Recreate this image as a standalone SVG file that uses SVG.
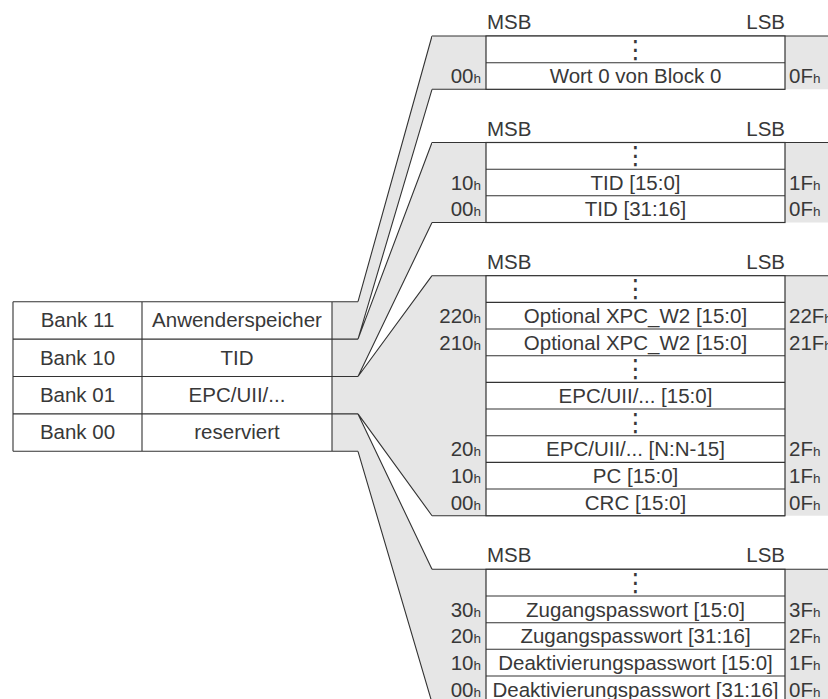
<svg xmlns="http://www.w3.org/2000/svg" width="828" height="699" viewBox="0 0 828 699">
<style>
.t{font-family:"Liberation Sans",Arial,Helvetica,sans-serif;font-size:20.5px;fill:#383838}
.c{text-anchor:middle}
.e{text-anchor:end}
.s{font-size:13.5px}
.d{font-family:"DejaVu Sans",sans-serif;font-size:25px;fill:#383838;text-anchor:middle}
.g{fill:#e6e6e6;stroke:none}
.w{fill:#fff;stroke:#333;stroke-width:1.2}
.l{fill:none;stroke:#333;stroke-width:1.1}
</style>
<rect width="828" height="699" fill="#fff"/>
<g id="connectors">
  <path class="g" d="M332,301.7 H358 L432,36 V89.3 L358,339.1 H332 Z"/>
  <path class="g" d="M332,339.1 H358 L432,142.5 V222.5 L358,376.5 H332 Z"/>
  <path class="g" d="M332,376.5 H358 L432,275.7 V515.7 L358,413.9 H332 Z"/>
  <path class="g" d="M332,413.9 H358 L432,569.3 V702.7 L358,451.3 H332 Z"/>
  <path class="l" d="M358,301.7 L432,36 M358,339.1 L432,89.3 M358,339.1 L432,142.5 M358,376.5 L432,222.5 M358,376.5 L432,275.7 M358,413.9 L432,515.7 M358,413.9 L432,569.3 M358,451.3 L432,702.7"/>
</g>
<g id="banks">
  <path class="l" d="M13,301.7 H358 M13,339.1 H358 M13,376.5 H358 M13,413.9 H358 M13,451.3 H358 M13,301.7 V451.3 M142,301.7 V451.3 M332,301.7 V451.3"/>
  <g id="bank11"><text class="t c" x="77.5" y="327.2">Bank 11</text><text class="t c" x="237" y="327.2">Anwenderspeicher</text></g>
  <g id="bank10"><text class="t c" x="77.5" y="364.6">Bank 10</text><text class="t c" x="237" y="364.6">TID</text></g>
  <g id="bank01"><text class="t c" x="77.5" y="402">Bank 01</text><text class="t c" x="237" y="402">EPC/UII/...</text></g>
  <g id="bank00"><text class="t c" x="77.5" y="439.4">Bank 00</text><text class="t c" x="237" y="439.4">reserviert</text></g>
</g>
<g id="block-user">
  <rect class="g" x="432" y="36" width="396" height="53.3"/>
  <path class="l" d="M432,36 H828 M432,89.3 H785"/>
  <rect class="w" x="486" y="36" width="299" height="53.3"/>
  <path class="l" d="M486,62.7 H785"/>
  <text class="t" x="487" y="29">MSB</text><text class="t e" x="785" y="29">LSB</text>
  <text class="d" x="635.5" y="57.5">⋮</text>
  <text class="t c" x="635.5" y="83.2">Wort 0 von Block 0</text>
  <text class="t e" x="481" y="83.2">00<tspan class="s">h</tspan></text>
  <text class="t" x="789" y="83.2">0F<tspan class="s">h</tspan></text>
</g>
<g id="block-tid">
  <rect class="g" x="432" y="142.5" width="396" height="80"/>
  <path class="l" d="M432,142.5 H828 M432,222.5 H785"/>
  <rect class="w" x="486" y="142.5" width="299" height="80"/>
  <path class="l" d="M486,169.2 H785 M486,195.8 H785"/>
  <text class="t" x="487" y="135.5">MSB</text><text class="t e" x="785" y="135.5">LSB</text>
  <text class="d" x="635.5" y="164">⋮</text>
  <text class="t c" x="635.5" y="189.7">TID [15:0]</text>
  <text class="t e" x="481" y="189.7">10<tspan class="s">h</tspan></text>
  <text class="t" x="789" y="189.7">1F<tspan class="s">h</tspan></text>
  <text class="t c" x="635.5" y="216.3">TID [31:16]</text>
  <text class="t e" x="481" y="216.3">00<tspan class="s">h</tspan></text>
  <text class="t" x="789" y="216.3">0F<tspan class="s">h</tspan></text>
</g>
<g id="block-epc">
  <rect class="g" x="432" y="275.7" width="396" height="240"/>
  <path class="l" d="M432,275.7 H828 M432,515.7 H785"/>
  <rect class="w" x="486" y="275.7" width="299" height="240"/>
  <path class="l" d="M486,302.4 H785 M486,329 H785 M486,355.7 H785 M486,382.4 H785 M486,409 H785 M486,435.7 H785 M486,462.4 H785 M486,489 H785"/>
  <text class="t" x="487" y="268.7">MSB</text><text class="t e" x="785" y="268.7">LSB</text>
  <text class="d" x="635.5" y="297.2">⋮</text>
  <text class="t c" x="635.5" y="322.9">Optional XPC_W2 [15:0]</text>
  <text class="t e" x="481" y="322.9">220<tspan class="s">h</tspan></text>
  <text class="t" x="789" y="322.9">22F<tspan class="s">h</tspan></text>
  <text class="t c" x="635.5" y="349.5">Optional XPC_W2 [15:0]</text>
  <text class="t e" x="481" y="349.5">210<tspan class="s">h</tspan></text>
  <text class="t" x="789" y="349.5">21F<tspan class="s">h</tspan></text>
  <text class="d" x="635.5" y="377.2">⋮</text>
  <text class="t c" x="635.5" y="402.9">EPC/UII/... [15:0]</text>
  <text class="d" x="635.5" y="430.5">⋮</text>
  <text class="t c" x="635.5" y="456.2">EPC/UII/... [N:N-15]</text>
  <text class="t e" x="481" y="456.2">20<tspan class="s">h</tspan></text>
  <text class="t" x="789" y="456.2">2F<tspan class="s">h</tspan></text>
  <text class="t c" x="635.5" y="482.9">PC [15:0]</text>
  <text class="t e" x="481" y="482.9">10<tspan class="s">h</tspan></text>
  <text class="t" x="789" y="482.9">1F<tspan class="s">h</tspan></text>
  <text class="t c" x="635.5" y="509.5">CRC [15:0]</text>
  <text class="t e" x="481" y="509.5">00<tspan class="s">h</tspan></text>
  <text class="t" x="789" y="509.5">0F<tspan class="s">h</tspan></text>
</g>
<g id="block-reserved">
  <rect class="g" x="432" y="569.3" width="396" height="133.4"/>
  <path class="l" d="M432,569.3 H828 M432,702.7 H785"/>
  <rect class="w" x="486" y="569.3" width="299" height="133.4"/>
  <path class="l" d="M486,596 H785 M486,622.7 H785 M486,649.3 H785 M486,676 H785"/>
  <text class="t" x="487" y="562.3">MSB</text><text class="t e" x="785" y="562.3">LSB</text>
  <text class="d" x="635.5" y="590.8">⋮</text>
  <text class="t c" x="635.5" y="616.5">Zugangspasswort [15:0]</text>
  <text class="t e" x="481" y="616.5">30<tspan class="s">h</tspan></text>
  <text class="t" x="789" y="616.5">3F<tspan class="s">h</tspan></text>
  <text class="t c" x="635.5" y="643.2">Zugangspasswort [31:16]</text>
  <text class="t e" x="481" y="643.2">20<tspan class="s">h</tspan></text>
  <text class="t" x="789" y="643.2">2F<tspan class="s">h</tspan></text>
  <text class="t c" x="635.5" y="669.8">Deaktivierungspasswort [15:0]</text>
  <text class="t e" x="481" y="669.8">10<tspan class="s">h</tspan></text>
  <text class="t" x="789" y="669.8">1F<tspan class="s">h</tspan></text>
  <text class="t c" x="635.5" y="696.5">Deaktivierungspasswort [31:16]</text>
  <text class="t e" x="481" y="696.5">00<tspan class="s">h</tspan></text>
  <text class="t" x="789" y="696.5">0F<tspan class="s">h</tspan></text>
</g>
</svg>
